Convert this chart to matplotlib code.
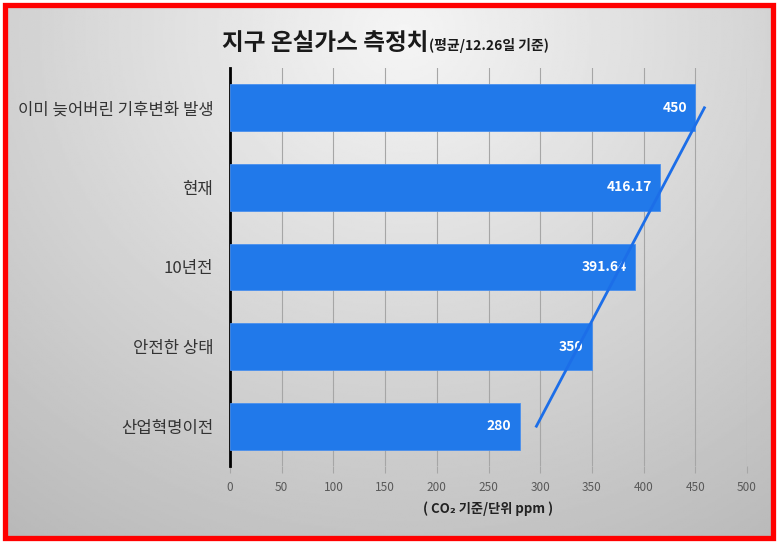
import numpy as np
import matplotlib
matplotlib.use('Agg')
import matplotlib.pyplot as plt
from matplotlib.patches import Rectangle

plt.rcParams['font.family'] = ['Noto Sans CJK KR', 'DejaVu Sans']

# data (bottom -> top)
categories = ['산업혁명이전', '안전한 상태', '10년전', '현재', '이미 늦어버린 기후변화 발생']
values = [280, 350, 391.64, 416.17, 450]
value_labels = ['280', '350', '391.64', '416.17', '450']
xticks = [0, 50, 100, 150, 200, 250, 300, 350, 400, 450, 500]

BAR = '#2179EA'
W, H = 778, 543

fig = plt.figure(figsize=(W / 100, H / 100), dpi=100, facecolor='white')

# background radial gradient
bg = fig.add_axes([5 / W, 5 / H, 767 / W, 533 / H], zorder=-10)
gx, gy = np.meshgrid(np.linspace(0, 1, 400), np.linspace(0, 1, 300))
d = np.sqrt(((gx - 0.52) * 1.0) ** 2 + ((gy - 0.05) * 0.75) ** 2)
shade = np.clip(0.96 - 0.27 * d, 0.72, 0.96)
bg.imshow(shade, cmap='gray', vmin=0, vmax=1, aspect='auto', extent=[0, 1, 0, 1])
bg.set_axis_off()

# red frame
fig.patches.append(Rectangle((4.5 / W, 5 / H), 768.5 / W, 533 / H, transform=fig.transFigure,
                             fill=False, edgecolor='#FF0000', linewidth=3.8, zorder=20))

ax = fig.add_axes([230 / W, 1 - 466 / H, 517 / W, 398 / H])
ax.set_facecolor('none')
pos = np.arange(len(categories))
ax.barh(pos, values, height=0.59, color=BAR, edgecolor='#4a90ee', linewidth=0.6, zorder=3)

for p, v, lab in zip(pos, values, value_labels):
    ax.annotate(lab, (v, p), xytext=(-6, 0), textcoords='offset points',
                ha='right', va='center', color='white', fontsize=10, fontweight='bold', zorder=4)

# linear trendline
coef = np.polyfit(pos, values, 1)
ax.plot(np.polyval(coef, pos), pos, color='#1C6EE8', linewidth=2, zorder=5)

ax.set_xlim(0, 500)
ax.set_ylim(-0.5, 4.5)
ax.set_xticks(xticks)
ax.set_yticks(pos)
ax.set_yticklabels(categories, fontsize=12, color='#333333')
ax.tick_params(axis='y', length=0, pad=12)
ax.tick_params(axis='x', length=5, color='#a6a6a6', labelsize=8.5, labelcolor='#595959', pad=6)
ax.grid(axis='x', color='#a6a6a6', linewidth=0.8, zorder=0)
for s in ['top', 'right', 'bottom']:
    ax.spines[s].set_visible(False)
ax.spines['left'].set_color('black')
ax.spines['left'].set_linewidth(2)
ax.set_axisbelow(True)
ax.set_xlabel('( CO₂ 기준/단위 ppm )', fontsize=9.5, fontweight='bold', color='#222222', labelpad=5)

# title in two sizes
t1 = fig.text(222 / W, 1 - 50 / H, '지구 온실가스 측정치', fontsize=17, fontweight='bold',
              color='#1a1a1a', ha='left', va='baseline')
fig.canvas.draw()
bb = t1.get_window_extent()
fig.text(bb.x1 / W + 1 / W, 1 - 50 / H, '(평균/12.26일 기준)', fontsize=10, fontweight='bold',
         color='#1a1a1a', ha='left', va='baseline')

fig.savefig('out.png', dpi=100, facecolor='white')
